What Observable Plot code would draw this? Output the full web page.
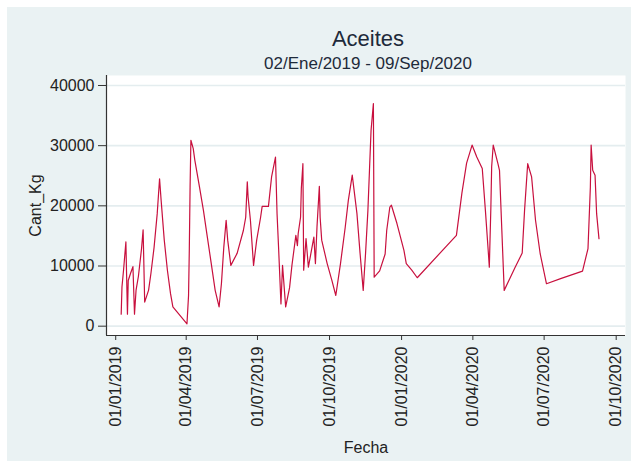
<!DOCTYPE html>
<html>
<head>
<meta charset="utf-8">
<script src="https://cdn.jsdelivr.net/npm/d3@7"></script>
<script src="https://cdn.jsdelivr.net/npm/@observablehq/plot@0.6"></script>
<style>
  body { margin: 0; background: #ffffff; }
  #chart { position: absolute; left: 7px; top: 7px; }
</style>
</head>
<body>
<div id="chart"></div>
<script>
// ---- data ----
const fechas = [
  "2019-01-08","2019-01-09","2019-01-11","2019-01-14","2019-01-16","2019-01-17","2019-01-20","2019-01-23",
  "2019-01-25","2019-01-27","2019-01-30","2019-02-03","2019-02-05","2019-02-07","2019-02-12","2019-02-15",
  "2019-02-19","2019-02-23","2019-02-26","2019-02-28","2019-03-04","2019-03-08","2019-03-12","2019-03-15",
  "2019-04-02","2019-04-04","2019-04-05","2019-04-06","2019-04-07","2019-04-10","2019-04-12","2019-04-18",
  "2019-04-23","2019-04-28","2019-05-03","2019-05-08","2019-05-13","2019-05-16","2019-05-19","2019-05-22",
  "2019-05-24","2019-05-28","2019-06-05","2019-06-13","2019-06-16","2019-06-18","2019-06-19","2019-06-22",
  "2019-06-26","2019-06-30","2019-07-05","2019-07-07","2019-07-15","2019-07-19","2019-07-24","2019-07-26",
  "2019-07-28","2019-07-31","2019-08-02","2019-08-06","2019-08-11","2019-08-14","2019-08-19","2019-08-21",
  "2019-08-22","2019-08-25","2019-08-26","2019-08-28","2019-08-29","2019-09-01","2019-09-04","2019-09-11",
  "2019-09-13","2019-09-15","2019-09-18","2019-09-19","2019-09-21","2019-09-28","2019-10-04","2019-10-09",
  "2019-10-15","2019-10-21","2019-10-25","2019-10-30","2019-11-05","2019-11-09","2019-11-13","2019-11-16",
  "2019-11-19","2019-11-21","2019-11-23","2019-11-26","2019-11-27","2019-12-04","2019-12-11","2019-12-13",
  "2019-12-17","2019-12-19","2019-12-26","2020-01-04","2020-01-07","2020-01-14","2020-01-21","2020-03-11",
  "2020-03-18","2020-03-24","2020-03-31","2020-04-06","2020-04-13","2020-04-17","2020-04-21","2020-04-22",
  "2020-04-24","2020-04-25","2020-04-27","2020-05-03","2020-05-05","2020-05-08","2020-05-11","2020-05-25",
  "2020-06-03","2020-06-06","2020-06-10","2020-06-15","2020-06-20","2020-06-26","2020-07-04","2020-07-22",
  "2020-08-19","2020-08-26","2020-08-29","2020-08-30","2020-09-01","2020-09-04","2020-09-06","2020-09-09"
];
const cantKg = [
  2000, 6500, 9300, 14000, 2000, 7600, 8800, 9900,
  2000, 6000, 8300, 12900, 16000, 4000, 6000, 8800,
  13100, 18700, 24500, 20900, 14300, 9300, 5400, 3200,
  400, 5100, 12900, 23400, 30900, 29500, 27600, 23100,
  19250, 14800, 10400, 5950, 3200, 7100, 13100, 17600,
  14300, 10100, 12100, 15900, 18100, 24000, 21500, 17600,
  10100, 14300, 18100, 19900, 19900, 24800, 28100, 18700,
  12900, 3700, 10100, 3200, 6400, 10100, 15100, 13400,
  15400, 18100, 22900, 27000, 9300, 14550, 9800, 14800,
  10400, 16500, 23250, 18100, 14300, 10400, 7600, 5100,
  10400, 16400, 20900, 25100, 18700, 12100, 5950, 12100,
  19250, 25900, 32500, 37000, 8150, 9200, 12000, 15900,
  19800, 20100, 17100, 12600, 10400, 9300, 8050, 15100,
  22100, 27100, 30100, 28100, 26200, 19250, 11800, 9800,
  19800, 26500, 30100, 27000, 25900, 15900, 5950, 9800,
  12150, 19250, 27000, 24800, 17600, 12000, 7050, 7900,
  9150, 12900, 23100, 30100, 25900, 25100, 18700, 14550
];
const xTickDates = ["2019-01-01","2019-04-01","2019-07-01","2019-10-01","2020-01-01","2020-04-01","2020-07-01","2020-10-01"];
const yTickValues = [0, 10000, 20000, 30000, 40000];
const xDomain = ["2018-12-20T06:00:00Z", "2020-10-12T21:00:00Z"];
const yDomain = [-1550, 41660];
const titulo = "Aceites";
const subtitulo = "02/Ene/2019 - 09/Sep/2020";
const tituloY = "Cant_Kg";
const tituloX = "Fecha";

const data = fechas.map((f, i) => ({ fecha: new Date(f), kg: cantKg[i] }));
const xTicks = xTickDates.map(d => new Date(d));
const xDom = xDomain.map(d => new Date(d));

const font = "'Liberation Sans', Arial, Helvetica, sans-serif";

const chart = Plot.plot({
  width: 624,
  height: 454,
  marginLeft: 99,
  marginRight: 6,
  marginTop: 68,
  marginBottom: 126,
  style: { background: "#EAF2F3", fontFamily: font, fontSize: "16px", color: "#222" },
  x: { type: "utc", domain: xDom },
  y: { domain: yDomain },
  marks: [
    Plot.frame({ fill: "white", stroke: "none" }),
    Plot.gridY(yTickValues, { stroke: "#E4EDEF", strokeOpacity: 1, strokeWidth: 1.6 }),
    Plot.line(data, { x: "fecha", y: "kg", stroke: "#C8103E", strokeWidth: 1.2 }),
    Plot.ruleX([xDom[0]], { stroke: "#333", strokeWidth: 1.2 }),
    Plot.ruleY([yDomain[0]], { stroke: "#333", strokeWidth: 1.2 }),
    Plot.axisY(yTickValues, { tickFormat: d3.format("d"), tickSize: 8, tickPadding: 4, label: null, stroke: "#333", fill: "#222" }),
    Plot.axisX(xTicks, { tickFormat: d3.utcFormat("%d/%m/%Y"), tickRotate: -90, tickSize: 5, tickPadding: 6, label: null, stroke: "#333", fill: "#222" }),
    Plot.text([titulo], { text: d => d, frameAnchor: "top", lineAnchor: "middle", textAnchor: "middle", dy: -37, dx: 2, fontSize: 22, fill: "#1e2a3a" }),
    Plot.text([subtitulo], { text: d => d, frameAnchor: "top", lineAnchor: "middle", textAnchor: "middle", dy: -12, dx: 2, fontSize: 17, fill: "#1e2a3a" }),
    Plot.text([tituloY], { text: d => d, frameAnchor: "left", lineAnchor: "middle", textAnchor: "middle", rotate: -90, dx: -71, fontSize: 16, fill: "#222" }),
    Plot.text([tituloX], { text: d => d, frameAnchor: "bottom", lineAnchor: "middle", textAnchor: "middle", dy: 112, fontSize: 16, fill: "#222" })
  ]
});
document.getElementById("chart").appendChild(chart);
</script>
</body>
</html>
